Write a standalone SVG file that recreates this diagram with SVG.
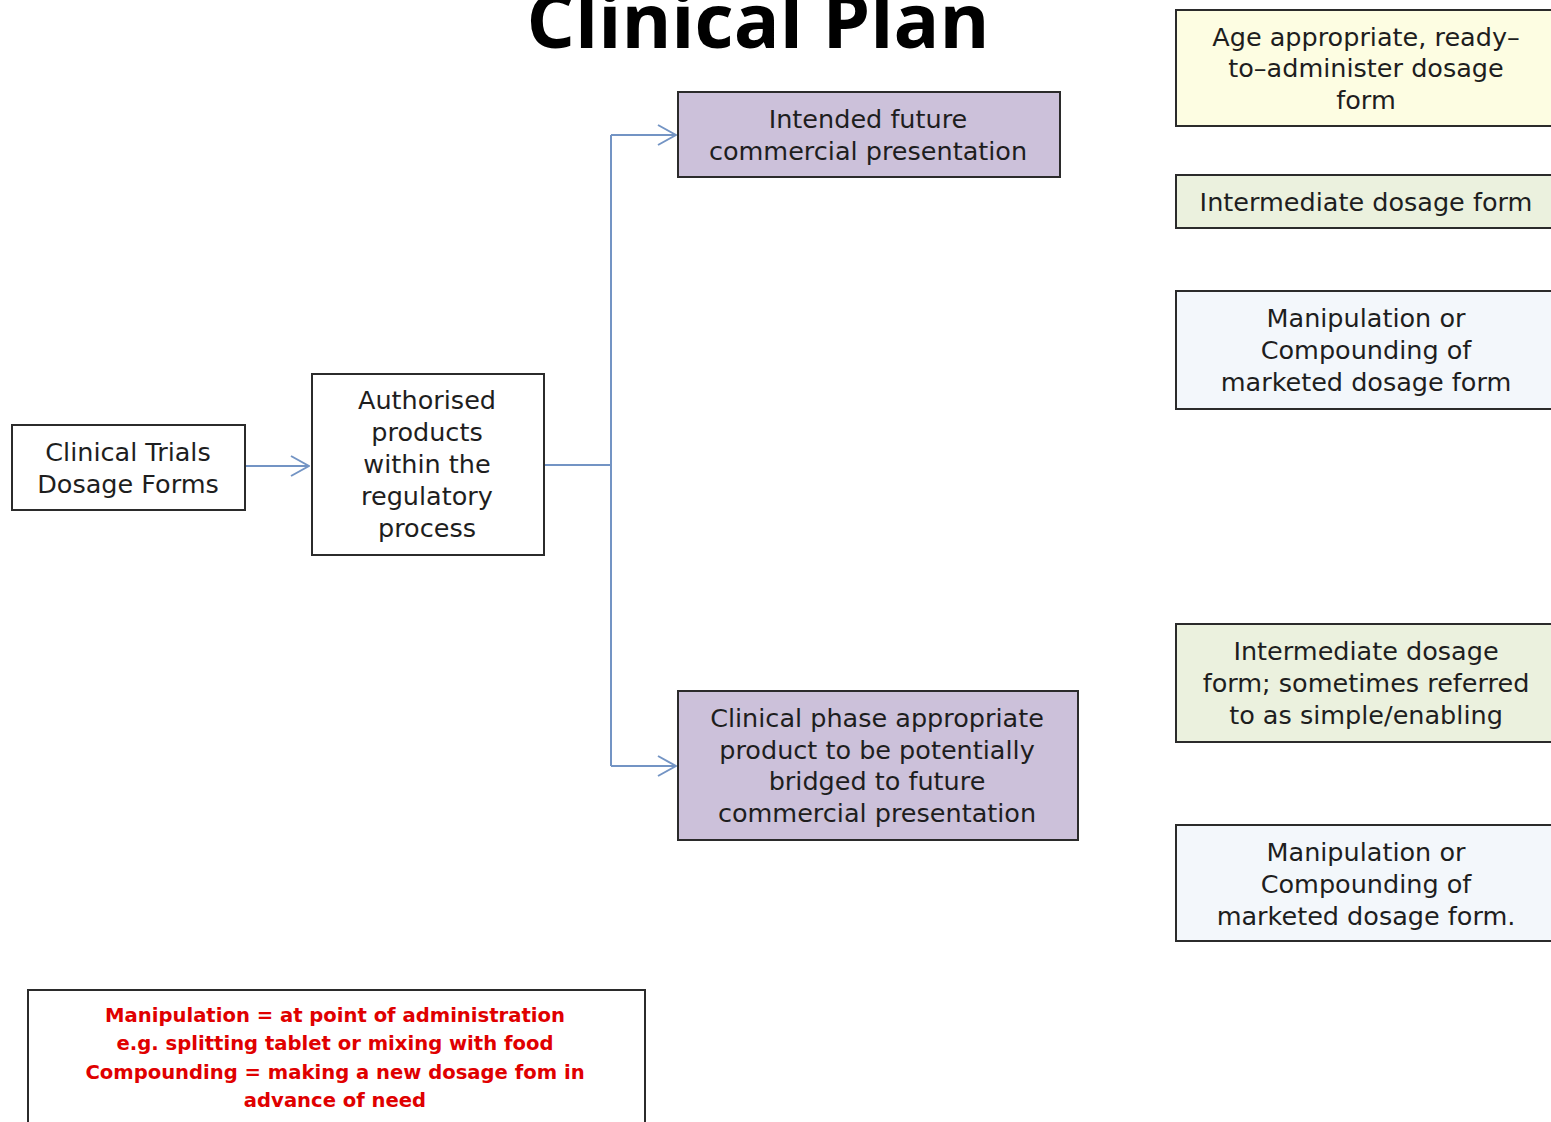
<svg xmlns="http://www.w3.org/2000/svg" width="1551" height="1122" viewBox="0 0 1551 1122">
<defs>
<marker id="arr" viewBox="0 0 20 24" refX="19" refY="12" markerWidth="20" markerHeight="24" markerUnits="userSpaceOnUse" orient="auto">
<path d="M1,2 L19,12 L1,22" fill="none" stroke="#7394c4" stroke-width="2"/>
</marker>
</defs>
<style>
.box{stroke:#2b2b2b;stroke-width:2}
.t{font-family:"DejaVu Sans",sans-serif;font-size:25.5px;fill:#1e1e1e;text-anchor:middle}
.red{font-family:"DejaVu Sans",sans-serif;font-weight:bold;font-size:19.6px;fill:#e00000;text-anchor:middle}
.title{font-family:"Open Sans","Liberation Sans",sans-serif;font-weight:bold;font-size:76px;fill:#000;text-anchor:middle}
.c{fill:none;stroke:#7394c4;stroke-width:2}
</style>
<rect x="0" y="0" width="1551" height="1122" fill="#ffffff"/>
<text class="title" x="758" y="48" textLength="463" lengthAdjust="spacingAndGlyphs">Clinical Plan</text>
<g id="connectors">
<path class="c" d="M245,466 L309,466" marker-end="url(#arr)"/>
<path class="c" d="M544,465 L611,465"/>
<path class="c" d="M611,135 L611,766"/>
<path class="c" d="M611,135 L676,135" marker-end="url(#arr)"/>
<path class="c" d="M611,766 L676,766" marker-end="url(#arr)"/>
</g>
<g id="clinical-trials">
<rect class="box" x="12" y="425" width="233" height="85" fill="#fff"/>
<text class="t" x="128" y="461">Clinical Trials</text>
<text class="t" x="128" y="493">Dosage Forms</text>
</g>
<g id="authorised">
<rect class="box" x="312" y="374" width="232" height="181" fill="#fff"/>
<text class="t" x="427" y="409">Authorised</text>
<text class="t" x="427" y="441">products</text>
<text class="t" x="427" y="473">within the</text>
<text class="t" x="427" y="505">regulatory</text>
<text class="t" x="427" y="537">process</text>
</g>
<g id="intended">
<rect class="box" x="678" y="92" width="382" height="85" fill="#ccc1da"/>
<text class="t" x="868" y="128">Intended future</text>
<text class="t" x="868" y="160">commercial presentation</text>
</g>
<g id="clinical-phase">
<rect class="box" x="678" y="691" width="400" height="149" fill="#ccc1da"/>
<text class="t" x="877" y="727">Clinical phase appropriate</text>
<text class="t" x="877" y="759">product to be potentially</text>
<text class="t" x="877" y="790">bridged to future</text>
<text class="t" x="877" y="822">commercial presentation</text>
</g>
<g id="age-appropriate">
<rect class="box" x="1176" y="10" width="385" height="116" fill="#fdfde2"/>
<text class="t" x="1366" y="46">Age appropriate, ready–</text>
<text class="t" x="1366" y="77">to–administer dosage</text>
<text class="t" x="1366" y="109">form</text>
</g>
<g id="intermediate-1">
<rect class="box" x="1176" y="175" width="385" height="53" fill="#ebf1de"/>
<text class="t" x="1366" y="211">Intermediate dosage form</text>
</g>
<g id="manipulation-1">
<rect class="box" x="1176" y="291" width="385" height="118" fill="#f3f7fb"/>
<text class="t" x="1366" y="327">Manipulation or</text>
<text class="t" x="1366" y="359">Compounding  of</text>
<text class="t" x="1366" y="391">marketed dosage form</text>
</g>
<g id="intermediate-2">
<rect class="box" x="1176" y="624" width="385" height="118" fill="#ebf1de"/>
<text class="t" x="1366" y="660">Intermediate dosage</text>
<text class="t" x="1366" y="692">form; sometimes referred</text>
<text class="t" x="1366" y="724">to as simple/enabling</text>
</g>
<g id="manipulation-2">
<rect class="box" x="1176" y="825" width="385" height="116" fill="#f3f7fb"/>
<text class="t" x="1366" y="861">Manipulation or</text>
<text class="t" x="1366" y="893">Compounding  of</text>
<text class="t" x="1366" y="925">marketed dosage form.</text>
</g>
<g id="note">
<rect class="box" x="28" y="990" width="617" height="145" fill="#fff"/>
<text class="red" x="335" y="1022">Manipulation = at point of administration</text>
<text class="red" x="335" y="1050">e.g. splitting tablet or mixing with food</text>
<text class="red" x="335" y="1079">Compounding = making a new dosage fom in</text>
<text class="red" x="335" y="1107">advance of need</text>
</g>
</svg>
